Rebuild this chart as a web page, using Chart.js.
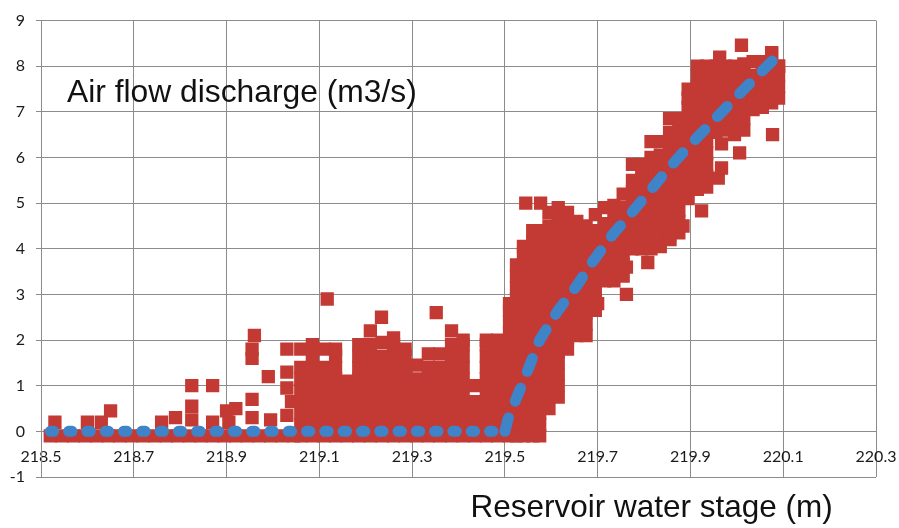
<!DOCTYPE html>
<html>
<head>
<meta charset="utf-8">
<script src="https://cdn.jsdelivr.net/npm/chart.js@4.4.1/dist/chart.umd.min.js"></script>
<style>
html,body{margin:0;padding:0;background:#fff;overflow:hidden}
#wrap{position:relative;width:899px;height:528px}
#chart{position:absolute;left:0;top:0}
.lbl{position:absolute;font-family:"Liberation Sans",Arial,sans-serif;font-size:32px;line-height:32px;color:#111;white-space:nowrap}
</style>
</head>
<body>
<div id="wrap">
<canvas id="chart" width="899" height="528"></canvas>
<div class="lbl" style="left:67px;top:74.5px;font-size:31.8px">Air flow discharge (m3/s)</div>
<div class="lbl" style="left:470.5px;top:491.3px;font-size:31.5px;line-height:31.5px">Reservoir water stage (m)</div>
</div>
<script>
// Tick values
const xTicks = [218.5, 218.7, 218.9, 219.1, 219.3, 219.5, 219.7, 219.9, 220.1, 220.3];
const yTicks = [-1, 0, 1, 2, 3, 4, 5, 6, 7, 8, 9];

// Fitted curve (blue dashed line)
const flatStage = [218.52, 219.5];
const flatFlow = [0, 0];
const riseStage = [219.5, 219.507, 219.54, 219.575, 219.614, 219.655, 219.69, 219.733, 219.77, 219.812, 219.851, 219.892, 219.927, 219.968, 220.006, 220.045, 220.082, 220.095];
const riseFlow = [0, 0.28, 1.1, 2.0, 2.64, 3.19, 3.73, 4.32, 4.75, 5.26, 5.74, 6.2, 6.57, 7.0, 7.4, 7.8, 8.17, 8.3];

// Measured points: zero-flow base row
const baseStage = [218.52, 218.545, 218.57, 218.595, 218.62, 218.645, 218.67, 218.695, 218.72, 218.745, 218.77, 218.795, 218.82, 218.845, 218.87, 218.895, 218.92, 218.945, 218.97, 218.995, 219.02, 219.045];
const baseFlow = [-0.1, -0.1, -0.1, -0.1, -0.1, -0.1, -0.1, -0.1, -0.1, -0.1, -0.1, -0.1, -0.1, -0.1, -0.1, -0.1, -0.1, -0.1, -0.1, -0.1, -0.1, -0.1];

// Measured points: sparse low-stage points
const sparseStage = [218.53, 218.6, 218.63, 218.65, 218.76, 218.79, 218.825, 218.825, 218.825, 218.87, 218.87, 218.9, 218.905, 218.92, 218.955, 218.955, 218.955, 218.955, 218.96, 218.99, 218.995, 219.03, 219.03, 219.03, 219.03, 219.04];
const sparseFlow = [0.2, 0.2, 0.2, 0.45, 0.2, 0.3, 0.25, 0.55, 1.0, 1.0, 0.2, 0.45, 0.2, 0.5, 0.3, 0.7, 1.6, 1.8, 2.1, 1.2, 0.25, 1.8, 1.3, 0.95, 0.35, 0.65];

// Measured points: dense columns
const columnStage = [219.06, 219.085, 219.11, 219.135, 219.16, 219.185, 219.21, 219.235, 219.26, 219.285, 219.31, 219.335, 219.36, 219.385, 219.41, 219.435, 219.46, 219.485,
  219.51, 219.525, 219.54, 219.56, 219.575,
  219.595, 219.615, 219.635, 219.655, 219.675, 219.695, 219.715, 219.735, 219.755, 219.775, 219.795, 219.815, 219.835, 219.855, 219.875, 219.895, 219.915, 219.935, 219.955, 219.975, 219.995, 220.015, 220.035, 220.055, 220.075, 220.09];
const columnFlows = [
  [-0.1,0.15,0.4,0.65,0.9,1.15,1.4,1.8],
  [-0.1,0.15,0.4,0.65,0.9,1.15,1.4,1.65,1.9],
  [-0.1,0.15,0.4,0.65,0.9,1.15,1.4,1.8],
  [-0.1,0.15,0.4,0.65,0.9,1.15,1.4,1.65,1.8],
  [-0.1,0.15,0.4,0.65,0.9,1.1],
  [-0.1,0.15,0.4,0.65,0.9,1.15,1.4,1.65,1.9],
  [-0.1,0.15,0.4,0.65,0.9,1.15,1.4,1.65,1.9,2.2],
  [-0.1,0.15,0.4,0.65,0.9,1.15,1.4,1.65,1.95],
  [-0.1,0.15,0.4,0.65,0.9,1.15,1.4,1.65,1.9,2.05],
  [-0.1,0.15,0.4,0.65,0.9,1.15,1.4,1.65,1.8],
  [-0.1,0.15,0.4,0.65,0.9,1.15,1.45],
  [-0.1,0.15,0.4,0.65,0.9,1.15,1.4,1.7],
  [-0.1,0.15,0.4,0.65,0.9,1.15,1.4,1.7],
  [-0.1,0.15,0.4,0.65,0.9,1.15,1.4,1.65,1.9,2.2],
  [-0.1,0.15,0.4,0.65,0.9,1.15,1.4,1.65,1.9,2.0],
  [-0.1,0.15,0.4,0.65,1.0],
  [-0.1,0.15,0.4,0.65,0.9,1.15,1.4,1.65,1.9,2.0],
  [-0.1,0.15,0.4,0.65,0.9,1.15,1.4,1.65,1.9,2.0],
  [-0.1,0.15,0.4,0.65,0.9,1.15,1.4,1.65,1.9,2.15,2.4,2.65,2.8],
  [-0.1,0.15,0.4,0.65,0.9,1.15,1.4,1.65,1.9,2.15,2.4,2.65,2.9,3.15,3.4,3.65],
  [-0.1,0.15,0.4,0.65,0.9,1.15,1.4,1.65,1.9,2.15,2.4,2.65,2.9,3.15,3.4,3.65,3.9,4.05],
  [-0.1,0.15,0.4,0.65,0.9,1.15,1.4,1.65,1.9,2.15,2.4,2.65,2.9,3.15,3.4,3.65,3.9,4.15,4.4],
  [-0.1,0.15,0.4,0.65,0.9,1.15,1.4,1.65,1.9,2.15,2.4,2.65,2.9,3.15,3.4,3.65,3.9,4.15,4.4],
  [0.5,0.75,1,1.25,1.5,1.75,2,2.25,2.5,2.75,3,3.25,3.5,3.75,4,4.25,4.5,4.8],
  [0.75,1,1.25,1.5,1.75,2,2.25,2.5,2.75,3,3.25,3.5,3.75,4,4.25,4.5,4.7,4.9],
  [1.8,2.05,2.3,2.55,2.8,3.05,3.3,3.55,3.8,4.05,4.3,4.55,4.8],
  [2.1,2.35,2.6,2.85,3.1,3.35,3.6,3.85,4.1,4.35,4.6],
  [2.1,2.35,2.6,2.85,3.1,3.35,3.6,3.85,4.1,4.3,4.5],
  [2.65,2.9,3.15,3.4,3.65,3.9,4.15,4.4,4.75],
  [3.3,3.55,3.8,4.05,4.3,4.55,4.9],
  [3.3,3.55,3.8,4.05,4.3,4.55,4.75,4.95],
  [3.4,3.65,3.9,4.15,4.4,4.65,4.9,5.2],
  [4,4.25,4.5,4.75,5,5.25,5.5,5.85],
  [4,4.25,4.5,4.75,5,5.25,5.5,5.65,5.85],
  [4,4.25,4.5,4.75,5,5.25,5.5,5.75,6,6.35],
  [4.05,4.3,4.55,4.8,5.05,5.3,5.55,5.8,6.05,6.35],
  [4.3,4.55,4.8,5.05,5.3,5.55,5.8,6.05,6.3,6.55,6.85],
  [4.35,4.6,4.85,5.1,5.35,5.6,5.85,6.1,6.35,6.6,6.85],
  [5.1,5.35,5.6,5.85,6.1,6.35,6.6,6.85,7.1,7.3,7.5],
  [5.3,5.55,5.8,6.05,6.3,6.55,6.8,7.05,7.3,7.55,7.8,8],
  [5.35,5.6,5.85,6.1,6.35,6.6,6.85,7.1,7.35,7.6,7.85,8],
  [6.55,6.8,7.05,7.3,7.55,7.8,8],
  [6.6,6.85,7.1,7.35,7.6,7.8,8],
  [6.5,6.75,7,7.25,7.5,7.75,8],
  [6.6,6.85,7.1,7.35,7.6,7.85,8.05],
  [7.05,7.3,7.55,7.8,8.1],
  [7.1,7.35,7.6,7.85,8.1],
  [7.2,7.45,7.7,7.95,8.3],
  [7.3,7.55,7.8,8.0]
];

// Measured points: isolated outliers
const outlierStage = [219.117, 219.234, 219.352, 219.545, 219.577, 219.70, 219.762, 219.762, 219.808, 219.856, 219.884, 219.924, 219.96, 219.967, 219.967, 219.963, 219.931, 220.006, 220.01, 220.077, 220.075, 220.09];
const outlierFlow = [2.9, 2.5, 2.6, 5.0, 5.0, 2.8, 3.0, 3.6, 3.7, 4.2, 4.5, 4.83, 5.55, 5.77, 6.3, 8.2, 7.9, 6.1, 8.46, 6.5, 8.28, 8.0];

const RED = '#c23a33';
const BLUE = '#3f83c9';
const GRID = '#8c8c8c';

const measured = [];
baseStage.forEach((x, i) => measured.push({ x: x, y: baseFlow[i] }));
sparseStage.forEach((x, i) => measured.push({ x: x, y: sparseFlow[i] }));
columnStage.forEach((x, i) => columnFlows[i].forEach(y => measured.push({ x: x, y: y })));
outlierStage.forEach((x, i) => measured.push({ x: x, y: outlierFlow[i] }));

const flatLine = flatStage.map((x, i) => ({ x: x, y: flatFlow[i] }));
const riseLine = riseStage.map((x, i) => ({ x: x, y: riseFlow[i] }));

const tickFont = { family: 'Lato', size: 16 };

new Chart(document.getElementById('chart'), {
  type: 'scatter',
  data: {
    datasets: [
      {
        label: 'Fit (flat)', data: flatLine, showLine: true, borderColor: BLUE, borderWidth: 11,
        borderDash: [3.5, 14.8], borderCapStyle: 'round', borderJoinStyle: 'round',
        pointRadius: 0, fill: false, tension: 0
      },
      {
        label: 'Fit (rise)', data: riseLine, showLine: true, borderColor: BLUE, borderWidth: 11,
        borderDash: [14, 18], borderCapStyle: 'round', borderJoinStyle: 'round',
        pointRadius: 0, fill: false, tension: 0
      },
      {
        label: 'Measured', data: measured, showLine: false, pointStyle: 'rect',
        pointRadius: 9.4, pointBorderWidth: 0, backgroundColor: RED, borderColor: RED
      }
    ]
  },
  options: {
    responsive: false,
    devicePixelRatio: 1,
    animation: false,
    events: [],
    layout: { padding: { top: 19, right: 23, bottom: 51, left: 0 } },
    plugins: { legend: { display: false }, tooltip: { enabled: false }, title: { display: false } },
    scales: {
      x: {
        type: 'linear',
        position: { y: 0 },
        min: 218.5, max: 220.3,
        afterBuildTicks: s => { s.ticks = xTicks.map(v => ({ value: v })); },
        afterFit: s => { s.paddingLeft = 0; s.paddingRight = 0; },
        ticks: { callback: v => Number(v).toFixed(1), font: tickFont, color: '#1a1a1a', padding: 16, maxRotation: 0, minRotation: 0, autoSkip: false },
        grid: { color: GRID, lineWidth: 1, drawTicks: false },
        border: { color: GRID, width: 1 }
      },
      y: {
        type: 'linear',
        position: 'left',
        min: -1, max: 9,
        afterBuildTicks: s => { s.ticks = yTicks.map(v => ({ value: v })); },
        afterFit: s => { s.width = 41; },
        ticks: { callback: v => String(v), font: tickFont, color: '#1a1a1a', padding: 11, autoSkip: false },
        grid: { color: GRID, lineWidth: 1, drawTicks: true, tickLength: 5 },
        border: { color: GRID, width: 1 }
      }
    }
  }
});
</script>
</body>
</html>
